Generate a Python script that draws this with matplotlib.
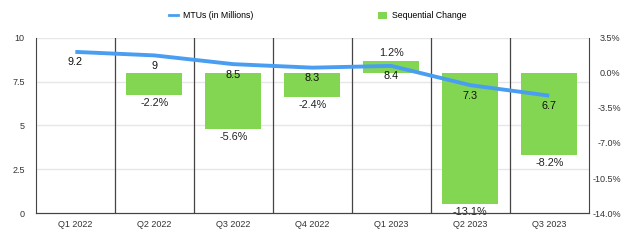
import numpy as np
import matplotlib
matplotlib.use('Agg')
import matplotlib.pyplot as plt
from matplotlib.lines import Line2D
from matplotlib.patches import Patch

plt.rcParams['font.family'] = ['Liberation Sans', 'DejaVu Sans']

quarters = ['Q1 2022', 'Q2 2022', 'Q3 2022', 'Q4 2022', 'Q1 2023', 'Q2 2023', 'Q3 2023']
mtus = [9.2, 9.0, 8.5, 8.3, 8.4, 7.3, 6.7]
mtu_labels = ['9.2', '9', '8.5', '8.3', '8.4', '7.3', '6.7']
seq_change = [None, -2.2, -5.6, -2.4, 1.2, -13.1, -8.2]

LINE_C = '#4a9ef2'
BAR_C = '#83d652'

fig = plt.figure(figsize=(6.4, 2.46), dpi=100)
ax = fig.add_axes([0.056, 0.134, 0.864, 0.712])
ax2 = ax.twinx()

x = np.arange(len(quarters))

# bars on the right (percent) axis
for i, v in enumerate(seq_change):
    if v is None:
        continue
    ax2.bar(x[i], v, width=0.71, color=BAR_C, zorder=2)
    if v < 0:
        ax2.annotate(f'{v:.1f}%', (x[i], v), xytext=(0, -2), textcoords='offset points',
                     ha='center', va='top', fontsize=7.8, color='#222222', zorder=5)
    else:
        ax2.annotate(f'{v:.1f}%', (x[i], v), xytext=(0, 2), textcoords='offset points',
                     ha='center', va='bottom', fontsize=7.8, color='#222222', zorder=5)

ax2.set_ylim(-14, 3.5)
rticks = np.arange(-14, 3.6, 3.5)
ax2.set_yticks(rticks)
ax2.set_yticklabels([f'{t:.1f}%' for t in rticks], ha='right')

# line on the left axis, drawn over the bars
ax.set_zorder(ax2.get_zorder() + 1)
ax.patch.set_visible(False)
ax.plot(x, mtus, color=LINE_C, lw=2.8, solid_capstyle='butt', zorder=4)
for i, (v, s) in enumerate(zip(mtus, mtu_labels)):
    ax.annotate(s, (x[i], v), xytext=(0, -4), textcoords='offset points',
                ha='center', va='top', fontsize=7.8, color='#111111', zorder=6)

ax.set_ylim(0, 10)
ax.set_yticks([0, 2.5, 5, 7.5, 10])
ax.set_yticklabels(['0', '2.5', '5', '7.5', '10'])
ax.set_xlim(-0.5, len(quarters) - 0.5)
ax.set_xticks(x)
ax.set_xticklabels(quarters)

# horizontal grid lines (behind bars, on ax2)
for t in [2.5, 5, 7.5, 10]:
    ax2.axhline(t * 1.75 - 14, color='#e6e6e6', lw=1, zorder=0)
# category separators
for b in np.arange(0.5, len(quarters) - 0.5, 1):
    ax.axvline(b, color='#444444', lw=0.9, zorder=1)

for a in (ax, ax2):
    a.spines['top'].set_visible(False)
    a.tick_params(length=0, labelsize=6.5, colors='#333333')
    a.spines['left'].set_color('#444444')
    a.spines['right'].set_color('#444444')
    a.spines['bottom'].set_color('#444444')
ax.tick_params(axis='x', pad=5)
ax.tick_params(axis='y', pad=8)
ax2.tick_params(axis='y', pad=23)
ax2.spines['left'].set_visible(False)
ax.spines['right'].set_visible(False)

handles = [Line2D([0], [0], color=LINE_C, lw=2, label='MTUs (in Millions)')]
fig.legend(handles=handles, loc='center', bbox_to_anchor=(0.33, 0.935), frameon=False,
           fontsize=6.3, handlelength=1.0, handletextpad=0.6)
handles2 = [Patch(facecolor=BAR_C, label='Sequential Change')]
fig.legend(handles=handles2, loc='center', bbox_to_anchor=(0.66, 0.935), frameon=False,
           fontsize=6.3, handlelength=1.0, handleheight=1.0, handletextpad=0.6)

fig.savefig('out.png', dpi=100)
